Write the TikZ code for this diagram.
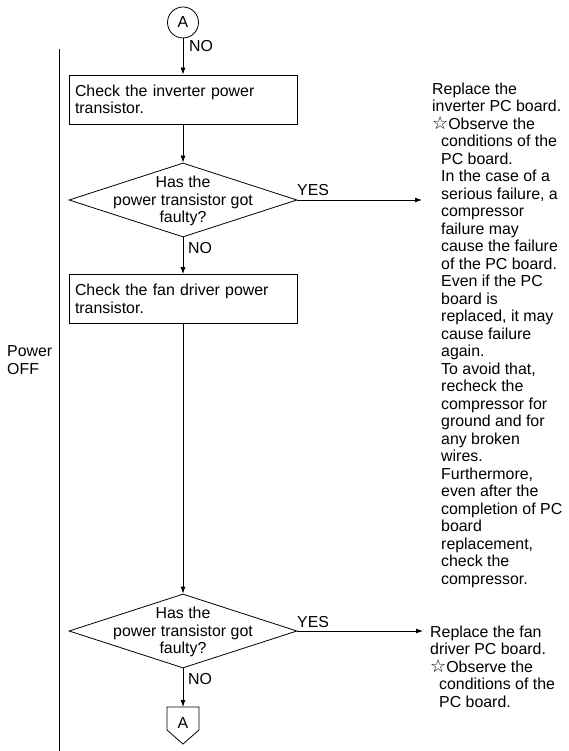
\documentclass[tikz,border=0pt]{standalone}
\usepackage{fontspec}
\setmainfont{Liberation Sans}
\newfontfamily\dejavu{DejaVu Sans}
\usetikzlibrary{shapes.geometric,arrows.meta}
\newcommand{\wstar}{{\dejavu\fontsize{18}{17.5}\selectfont ☆}}
\begin{document}
\begin{tikzpicture}[x=1pt,y=-1pt,
  every node/.style={font=\fontsize{15.9}{17.5}\selectfont},
  ln/.style={line width=0.8pt},
  arr/.style={ln,-{Latex[length=7pt,width=5pt]}},
  stepbox/.style={draw,ln,rectangle,minimum height=49pt,text width=216pt,inner xsep=6pt,inner ysep=0pt,align=left},
  dia/.style={draw,ln,diamond,inner sep=0pt,minimum width=228pt,minimum height=74pt},
  lbl/.style={anchor=base west,inner sep=0pt}
]
\useasboundingbox (0,0) rectangle (569,751);
% divider
\coordinate (vtop) at (59.5,49);
\coordinate (vbot) at (59.5,751);
\draw[line width=1pt] (vtop) -- (vbot);
\node[anchor=north west,inner sep=0pt,align=left] (pw) at (7,345.5) {Power\\OFF};
% connector A
\node[draw,ln,circle,minimum size=31pt,inner sep=0pt] (cA) at (183,22.5) {A};
\node[stepbox] (b1) at (183,99.5) {Check the inverter power\\transistor.};
\node[dia] (d1) at (183,200) {};
\node[align=center,inner sep=0pt] (t1) at (183,201) {Has the\\power transistor got\\faulty?};
\node[stepbox] (b2) at (183,299) {Check the fan driver power\\transistor.};
\node[dia] (d2) at (183,631) {};
\node[align=center,inner sep=0pt] (t2) at (183,632) {Has the\\power transistor got\\faulty?};
% off-page connector
\node[inner sep=0pt] (pA) at (183,723) {A};
\coordinate (pAtop) at (183,707);
\draw[ln] (167,707) -- (199,707) -- (199,730) -- (183,744) -- (167,730) -- cycle;
% connectors
\draw[arr] (cA.south) -- (b1.north);
\draw[arr] (b1.south) -- (d1.north);
\draw[arr] (d1.south) -- (b2.north);
\draw[arr] (b2.south) -- (d2.north);
\draw[arr] (d2.south) -- (pAtop);
\coordinate (r1) at (422,200);
\coordinate (r2) at (423,631);
\draw[arr] (d1.east) -- (r1);
\draw[arr] (d2.east) -- (r2);
% labels
\node[lbl] (no1) at (189,52) {NO};
\node[lbl] (no2) at (188,253) {NO};
\node[lbl] (no3) at (188,684) {NO};
\node[lbl] (yes1) at (297,196) {YES};
\node[lbl] (yes2) at (297,627) {YES};
% right texts
\node[anchor=north west,inner sep=0pt,align=left] (rt1) at (432,82.5) {Replace the\\inverter PC board.\\\wstar Observe the\\
\hspace*{9pt}conditions of the\\
\hspace*{9pt}PC board.\\
\hspace*{9pt}In the case of a\\
\hspace*{9pt}serious failure, a\\
\hspace*{9pt}compressor\\
\hspace*{9pt}failure may\\
\hspace*{9pt}cause the failure\\
\hspace*{9pt}of the PC board.\\
\hspace*{9pt}Even if the PC\\
\hspace*{9pt}board is\\
\hspace*{9pt}replaced, it may\\
\hspace*{9pt}cause failure\\
\hspace*{9pt}again.\\
\hspace*{9pt}To avoid that,\\
\hspace*{9pt}recheck the\\
\hspace*{9pt}compressor for\\
\hspace*{9pt}ground and for\\
\hspace*{9pt}any broken\\
\hspace*{9pt}wires.\\
\hspace*{9pt}Furthermore,\\
\hspace*{9pt}even after the\\
\hspace*{9pt}completion of PC\\
\hspace*{9pt}board\\
\hspace*{9pt}replacement,\\
\hspace*{9pt}check the\\
\hspace*{9pt}compressor.};
\node[anchor=north west,inner sep=0pt,align=left] (rt2) at (430,625.5) {Replace the fan\\driver PC board.\\\wstar Observe the\\
\hspace*{9pt}conditions of the\\
\hspace*{9pt}PC board.};
\end{tikzpicture}
\end{document}
